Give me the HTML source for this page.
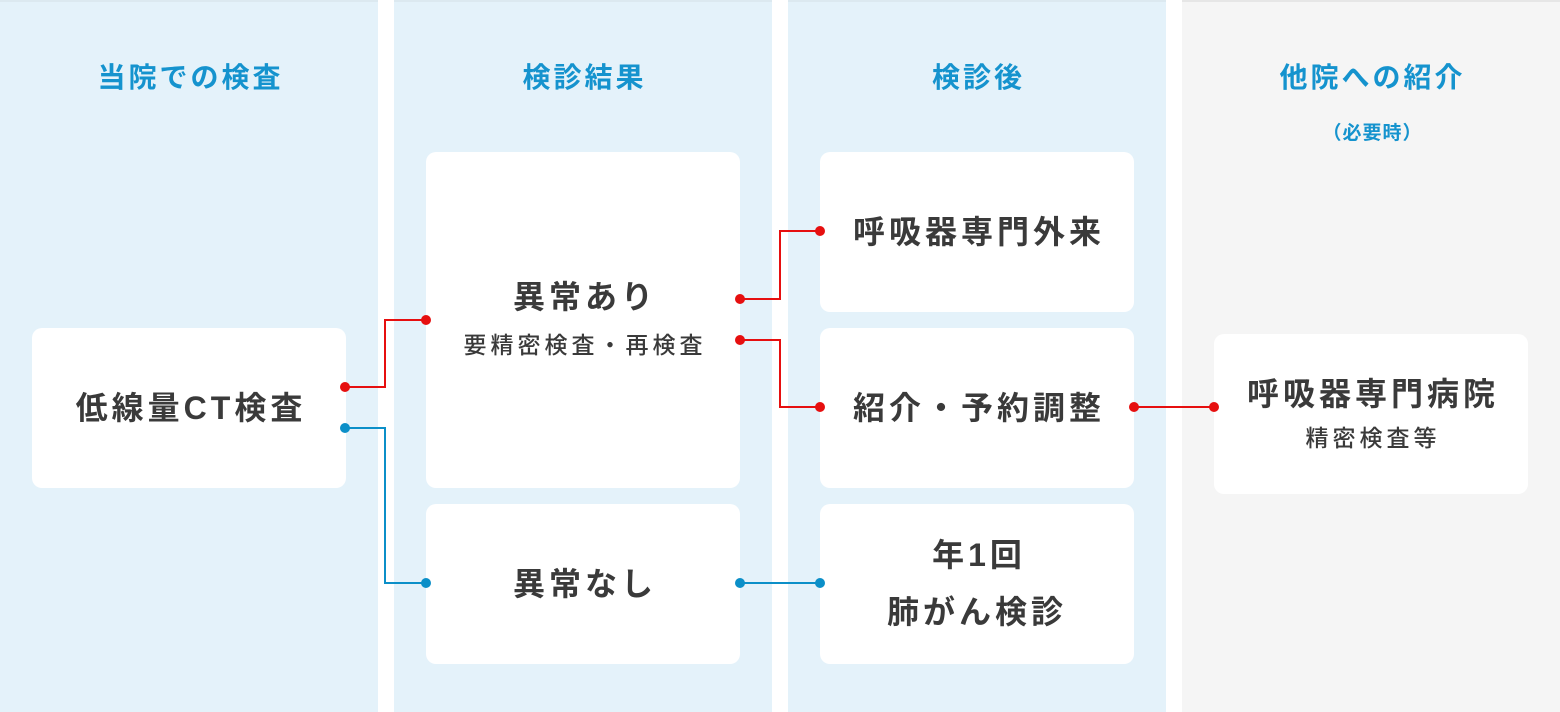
<!DOCTYPE html><html><head><meta charset="utf-8"><style>
body{margin:0;width:1560px;height:712px;position:relative;background:#fff;font-family:"Liberation Sans","Noto Sans CJK JP",sans-serif;overflow:hidden}
.col{position:absolute;top:0;height:712px;width:378px;background:#e4f2fa;border-top:2px solid #dce9f0;box-sizing:border-box}
.h{position:absolute;width:100%;text-align:center;top:54px;font-size:28px;font-weight:bold;color:#1593ce;letter-spacing:3px;text-indent:3px}
.b{position:absolute;width:314px;height:160px;background:#fff;border-radius:10px;display:flex;flex-direction:column;align-items:center;justify-content:center;color:#3a3a3a;font-weight:bold;font-size:32px;line-height:1.4;text-align:center;letter-spacing:4px;text-indent:4px}
.s{font-size:23px;font-weight:500;line-height:1.5;letter-spacing:4px;margin-top:8px}
svg{position:absolute;left:0;top:0}
</style></head><body>
<div class="col" style="left:0"><div class="h">当院での検査</div></div>
<div class="col" style="left:394px"><div class="h">検診結果</div></div>
<div class="col" style="left:788px"><div class="h">検診後</div></div>
<div class="col" style="left:1182px;background:#f5f5f5;border-top-color:#e6e6e6"><div class="h">他院への紹介</div><div class="h" style="top:116px;font-size:19px;letter-spacing:1px">（必要時）</div></div>
<div class="b" style="left:32px;top:328px">低線量CT検査</div>
<div class="b" style="left:426px;top:152px;height:336px;padding-bottom:2px;box-sizing:border-box">異常あり<div class="s">要精密検査・再検査</div></div>
<div class="b" style="left:426px;top:504px">異常なし</div>
<div class="b" style="left:820px;top:152px">呼吸器専門外来</div>
<div class="b" style="left:820px;top:328px">紹介・予約調整</div>
<div class="b" style="left:820px;top:504px;line-height:57px">年1回<br>肺がん検診</div>
<div class="b" style="left:1214px;top:334px">呼吸器専門病院<div class="s" style="margin-top:4px">精密検査等</div></div>
<svg width="1560" height="712" fill="none" stroke-width="2">
<g stroke="#e60f0f"><polyline points="345,387 385,387 385,320 426,320"/><polyline points="740,299 780,299 780,231 820,231"/><polyline points="740,340 780,340 780,407 820,407"/><polyline points="1134,407 1214,407"/></g>
<g stroke="#0b8fc8"><polyline points="345,428 385,428 385,583 426,583"/><polyline points="740,583 820,583"/></g>
<g fill="#e60f0f"><circle cx="345" cy="387" r="5"/><circle cx="426" cy="320" r="5"/><circle cx="740" cy="299" r="5"/><circle cx="820" cy="231" r="5"/><circle cx="740" cy="340" r="5"/><circle cx="820" cy="407" r="5"/><circle cx="1134" cy="407" r="5"/><circle cx="1214" cy="407" r="5"/></g>
<g fill="#0b8fc8"><circle cx="345" cy="428" r="5"/><circle cx="426" cy="583" r="5"/><circle cx="740" cy="583" r="5"/><circle cx="820" cy="583" r="5"/></g>
</svg>
</body></html>
